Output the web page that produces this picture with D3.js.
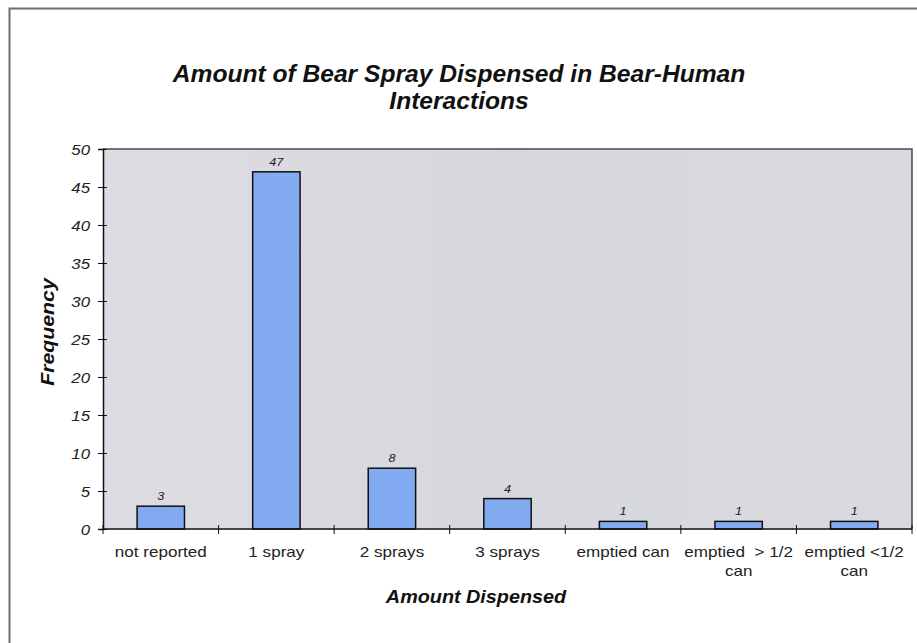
<!DOCTYPE html>
<html>
<head>
<meta charset="utf-8">
<script src="https://cdn.jsdelivr.net/npm/d3@7"></script>
<style>
  html, body { margin: 0; padding: 0; background: #fff; }
  svg { display: block; font-family: "Liberation Sans", Arial, sans-serif; }
</style>
</head>
<body>
<svg id="chart" width="917" height="643"></svg>
<script>
// Bear spray usage counts by amount dispensed
const categories = ["not reported", "1 spray", "2 sprays", "3 sprays", "emptied can", "emptied  > 1/2 can", "emptied <1/2 can"];
const categoryLines = [["not reported"], ["1 spray"], ["2 sprays"], ["3 sprays"], ["emptied can"], ["emptied  > 1/2", "can"], ["emptied <1/2", "can"]];
const frequencies = [3, 47, 8, 4, 1, 1, 1];
const yTicks = [0, 5, 10, 15, 20, 25, 30, 35, 40, 45, 50];
const titleLines = ["Amount of Bear Spray Dispensed in Bear-Human", "Interactions"];
const xTitle = "Amount Dispensed";
const yTitle = "Frequency";

const svg = d3.select("#chart");
const W = 917, H = 643;
const plot = { left: 103, right: 912, top: 149, bottom: 529 };

// helper: text widened horizontally around its anchor point
function wideText(sel, x, y, str, sx) {
  return sel.append("text")
    .attr("transform", `translate(${x},${y}) scale(${sx},1)`)
    .text(str);
}

// outer chart frame
svg.append("rect").attr("x", 0).attr("y", 0).attr("width", W).attr("height", H).attr("fill", "#fff");
svg.append("rect")
  .attr("x", 9.5).attr("y", 8.5).attr("width", W + 10).attr("height", H + 10)
  .attr("fill", "none").attr("stroke", "#6e6e6e").attr("stroke-width", 2);

// plot area background
const defs = svg.append("defs");
const grad = defs.append("linearGradient").attr("id", "bg").attr("x1", "0").attr("x2", "1").attr("y1", "0").attr("y2", "0");
grad.append("stop").attr("offset", "0").attr("stop-color", "#dcdce2");
grad.append("stop").attr("offset", "0.5").attr("stop-color", "#d7d7de");
grad.append("stop").attr("offset", "1").attr("stop-color", "#d9d9df");
svg.append("rect")
  .attr("x", plot.left).attr("y", plot.top)
  .attr("width", plot.right - plot.left).attr("height", plot.bottom - plot.top)
  .attr("fill", "url(#bg)");

const x = d3.scaleBand().domain(categories).range([plot.left, plot.right]).paddingInner(0.59).paddingOuter(0.295);
const y = d3.scaleLinear().domain([0, 50]).range([plot.bottom, plot.top]);

// plot frame top and right
svg.append("path")
  .attr("d", `M${plot.left},${plot.top}H${plot.right}V${plot.bottom}`)
  .attr("fill", "none").attr("stroke", "#4a4a4a").attr("stroke-width", 1.5);

// bars
svg.append("g").selectAll("rect").data(frequencies).join("rect")
  .attr("x", (d, i) => x(categories[i]))
  .attr("y", d => y(d))
  .attr("width", x.bandwidth())
  .attr("height", d => y(0) - y(d))
  .attr("fill", "#82aaf0")
  .attr("stroke", "#111")
  .attr("stroke-width", 1.5);

// value labels
const vl = svg.append("g").attr("font-size", 11).attr("font-style", "italic").attr("fill", "#222").attr("text-anchor", "middle");
frequencies.forEach((d, i) => {
  wideText(vl, x(categories[i]) + x.bandwidth() / 2, y(d) - 6, d, 1.15);
});

// y axis
const yAxis = svg.append("g").attr("transform", `translate(${plot.left},0)`)
  .call(d3.axisLeft(y).tickValues(yTicks).tickSize(5));
yAxis.select(".domain").attr("stroke", "#111").attr("stroke-width", 1.5);
yAxis.selectAll(".tick line").attr("x1", 4).attr("x2", -5).attr("stroke", "#111");
yAxis.selectAll(".tick text").remove();
yAxis.selectAll(".tick").each(function(d) {
  const t = d3.select(this).append("g");
  wideText(t, -13, 0, d, 1.12)
    .attr("dy", "0.35em").attr("text-anchor", "end")
    .attr("font-size", 15).attr("font-style", "italic").attr("fill", "#222");
});

// x axis baseline and category separators
svg.append("line")
  .attr("x1", plot.left).attr("x2", plot.right).attr("y1", y(0)).attr("y2", y(0))
  .attr("stroke", "#111").attr("stroke-width", 1.5);
const sepX = categories.slice(1).map(c => x(c) - x.step() * x.paddingInner() / 2);
svg.append("g").selectAll("line").data(sepX.concat([plot.left, plot.right])).join("line")
  .attr("x1", d => d).attr("x2", d => d)
  .attr("y1", y(0) - 4).attr("y2", y(0) + 5)
  .attr("stroke", "#111").attr("stroke-width", 1);

// category labels
const cl = svg.append("g").attr("font-size", 14).attr("fill", "#222").attr("text-anchor", "middle");
categoryLines.forEach((lines, i) => {
  const cx = x(categories[i]) + x.bandwidth() / 2;
  lines.forEach((ln, j) => {
    wideText(cl, cx, y(0) + 28 + j * 19, ln, 1.22).style("white-space", "pre");
  });
});

// titles
const tg = svg.append("g").attr("font-weight", "bold").attr("font-style", "italic").attr("fill", "#111").attr("text-anchor", "middle");
titleLines.forEach((t, i) => {
  wideText(tg, 459, 82 + i * 27, t, 1.07).attr("font-size", 23);
});
wideText(tg, 476, 603, xTitle, 1.1).attr("font-size", 18);
svg.append("text")
  .attr("transform", `translate(54,332) rotate(-90) scale(1.12,1)`)
  .attr("text-anchor", "middle")
  .attr("font-size", 19).attr("font-weight", "bold").attr("font-style", "italic").attr("fill", "#111")
  .text(yTitle);
</script>
</body>
</html>
